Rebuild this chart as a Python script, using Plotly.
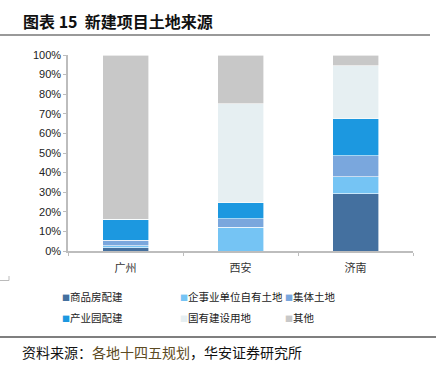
import plotly.graph_objects as go

categories = ["广州", "西安", "济南"]
series_names = ["商品房配建", "企事业单位自有土地", "集体土地", "产业园配建", "国有建设用地", "其他"]
s_commercial = [1.6, 0.0, 29.1]
s_enterprise = [1.2, 12.1, 8.7]
s_collective = [2.7, 4.3, 10.7]
s_industrial = [10.8, 8.2, 18.9]
s_state = [0.0, 50.5, 27.2]
s_other = [83.7, 24.9, 5.4]
y_ticks = [0, 10, 20, 30, 40, 50, 60, 70, 80, 90, 100]

series_values = [s_commercial, s_enterprise, s_collective, s_industrial, s_state, s_other]
colors = ["#44709F", "#75C4F4", "#7AA7DD", "#1C98E0", "#E6EFF2", "#C8C8C8"]

W, H = 436, 374
L, R, T, B = 68, 23, 55, 123
PW, PH = W - L - R, H - T - B

def px(x):
    return (x - L) / PW

def py(y):
    return (H - B - y) / PH

fig = go.Figure()
for name, vals, c in zip(series_names, series_values, colors):
    fig.add_trace(go.Bar(x=categories, y=vals, name=name,
                         marker=dict(color=c, line=dict(color="white", width=0.6)),
                         showlegend=False, hoverinfo="skip"))

fig.update_layout(
    width=W, height=H, barmode="stack", bargap=0.6,
    margin=dict(l=L, r=R, t=T, b=B),
    plot_bgcolor="white", paper_bgcolor="white",
    font=dict(family="Liberation Sans, Arial", size=11, color="#222"),
    xaxis=dict(showline=True, linecolor="#BDBDBD", linewidth=1.5, ticks="outside",
               tickson="boundaries", ticklen=3, tickcolor="#BDBDBD", ticklabelstandoff=6,
               tickfont=dict(family="Noto Sans CJK SC", size=11, color="#333")),
    yaxis=dict(range=[0, 100], tickvals=y_ticks, ticktext=[f"{v}%" for v in y_ticks],
               showline=True, linecolor="#BDBDBD", linewidth=1.5, ticks="outside",
               ticklen=3, tickcolor="#BDBDBD", showgrid=False, zeroline=False,
               tickfont=dict(size=11, color="#222")),
)

shapes = [
    dict(type="line", xref="paper", yref="paper", x0=px(0), x1=px(430), y0=py(35), y1=py(35),
         line=dict(color="#999999", width=2)),
    dict(type="line", xref="paper", yref="paper", x0=px(0), x1=px(436), y0=py(337), y1=py(337),
         line=dict(color="#555555", width=1.5)),
    dict(type="path", xref="paper", yref="paper",
         path=f"M {px(0)},{py(280.5)} L {px(9)},{py(280.5)} L {px(9)},{py(276)}",
         line=dict(color="#BBBBBB", width=1)),
]
fig.update_layout(shapes=shapes)

ann = [
    dict(text="<b>图表 15  新建项目土地来源</b>", x=px(21), y=py(21), xref="paper", yref="paper",
         xanchor="left", yanchor="middle", showarrow=False,
         font=dict(family="Noto Sans CJK SC", size=16, color="#111")),
    dict(text="资料来源：<span style='color:#5C4A22'>各地十四五规划</span>，华安证券研究所",
         x=px(20), y=py(352), xref="paper", yref="paper", xanchor="left", yanchor="middle",
         showarrow=False, font=dict(family="Noto Sans CJK SC", size=14, color="#111")),
]
leg_x = [60, 178, 283]
leg_y = [296, 317]
for i, (name, c) in enumerate(zip(series_names, colors)):
    r, col = divmod(i, 3)
    ann.append(dict(text=f"<span style='font-size:8px;color:{c}'>■</span>{name}",
                    x=px(leg_x[col]), y=py(leg_y[r]), xref="paper", yref="paper",
                    xanchor="left", yanchor="middle", showarrow=False,
                    font=dict(family="Noto Sans CJK SC", size=10.5, color="#222")))
fig.update_layout(annotations=ann)

fig.write_html("out.html", config={"displayModeBar": False},
               post_script="document.body.style.margin='0';document.body.style.padding='0';")
